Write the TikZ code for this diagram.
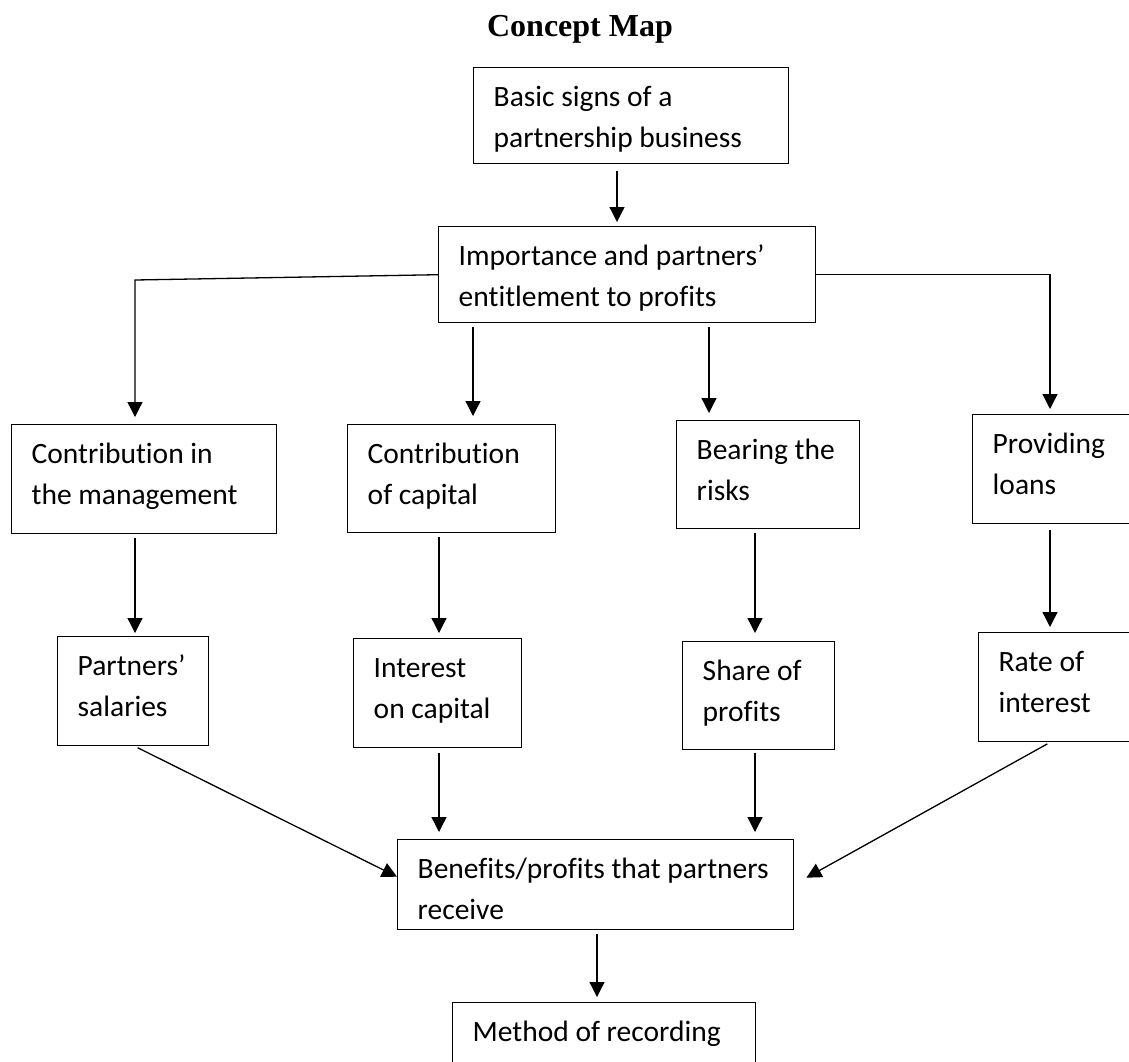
\documentclass[tikz,border=0pt]{standalone}
\usepackage{fontspec}
\setmainfont[Ligatures=NoCommon]{Carlito}
\newfontfamily\titlefont{Liberation Serif}
\usetikzlibrary{arrows.meta}

% Text block of a concept box: width, height, lines (first baseline 39pt below the top edge)
\newcommand{\cbt}[3]{\parbox[c][#2pt][t]{#1pt}{\raggedright\setlength{\leftskip}{20pt}%
  \fontsize{29.5}{41}\selectfont\rule{0pt}{39pt}#3}}

\begin{document}
\begin{tikzpicture}[x=1pt,y=-1pt,
  cbox/.style={draw, line width=1.4pt, inner sep=0pt, anchor=north west},
  arr/.style={line width=1.3pt, -{Triangle[width=15pt,length=15pt]}, shorten <=4pt, shorten >=6pt},
  link/.style={line width=1.3pt, -{Triangle[width=15pt,length=15pt]}}]

\clip (0,0) rectangle (1129,1061);
\fill[white] (0,0) rectangle (1129,1061);

% title
\node[anchor=base, inner sep=0pt] (title) at (580,36) {\titlefont\fontsize{32}{38}\selectfont\bfseries Concept Map};

% concept boxes
\node[cbox] (b1) at (473,67)  {\cbt{315}{96}{Basic signs of a\\partnership business}};
\node[cbox] (b2) at (438,226) {\cbt{377}{96}{Importance and partners’\\entitlement to profits}};

\node[cbox] (cm) at (11,424)  {\cbt{265}{109}{Contribution in\\the management}};
\node[cbox] (cc) at (347,424) {\cbt{208}{108}{Contribution\\of capital}};
\node[cbox] (br) at (676,420) {\cbt{183}{108}{Bearing the\\risks}};
\node[cbox] (pl) at (972,414) {\cbt{180}{109}{Providing\\loans}};

\node[cbox] (ps) at (57,636)  {\cbt{151}{109}{Partners’\\salaries}};
\node[cbox] (ic) at (353,638) {\cbt{168}{109}{Interest\\on capital}};
\node[cbox] (sp) at (682,641) {\cbt{152}{108}{Share of\\profits}};
\node[cbox] (ri) at (978,632) {\cbt{180}{109}{Rate of\\interest}};

\node[cbox] (bn) at (397,839)  {\cbt{396}{90}{Benefits/profits that partners\\receive}};
\node[cbox] (mr) at (452,1002) {\cbt{303}{90}{Method of recording}};

% connector columns
\coordinate (cA)  at (135,0);
\coordinate (cB)  at (439,0);
\coordinate (cBi) at (473,0);
\coordinate (cC)  at (709,0);
\coordinate (cD)  at (755,0);
\coordinate (cE)  at (1050,0);
\coordinate (cM)  at (617,0);
\coordinate (cN)  at (597,0);
\coordinate (jl)  at (135,280);

% top of the map
\draw[arr, shorten <=7pt, shorten >=4pt] (cM |- b1.south) -- (cM |- b2.north);
\draw[link, shorten >=7pt] (b2.west) -- (jl) -- (jl |- cm.north);
\draw[arr, shorten >=8pt] (cBi |- b2.south) -- (cBi |- cc.north);
\draw[arr, shorten >=7pt] (cC |- b2.south) -- (cC |- br.north);
\draw[link, shorten >=5pt] (b2.east) -- (b2.east -| cE) -- (cE |- pl.north);

% second to third row
\draw[arr, shorten >=3pt] (cA |- cm.south) -- (cA |- ps.north);
\draw[arr, shorten >=5pt] (cB |- cc.south) -- (cB |- ic.north);
\draw[arr, shorten >=8pt] (cD |- br.south) -- (cD |- sp.north);
\draw[arr, shorten <=6pt, shorten >=5pt] (cE |- pl.south) -- (cE |- ri.north);

% into the benefits box
\draw[link, shorten <=3pt] (cA |- ps.south) -- ([yshift=8pt]bn.west);
\draw[arr, shorten <=5pt, shorten >=7pt] (cB |- ic.south) -- (cB |- bn.north);
\draw[arr, shorten <=3pt, shorten >=7pt] (cD |- sp.south) -- (cD |- bn.north);
\draw[link, shorten <=3pt] (cE |- ri.south) -- ([xshift=12pt,yshift=7pt]bn.east);

% last step
\draw[arr, shorten >=5pt] (cN |- bn.south) -- (cN |- mr.north);
\end{tikzpicture}
\end{document}
